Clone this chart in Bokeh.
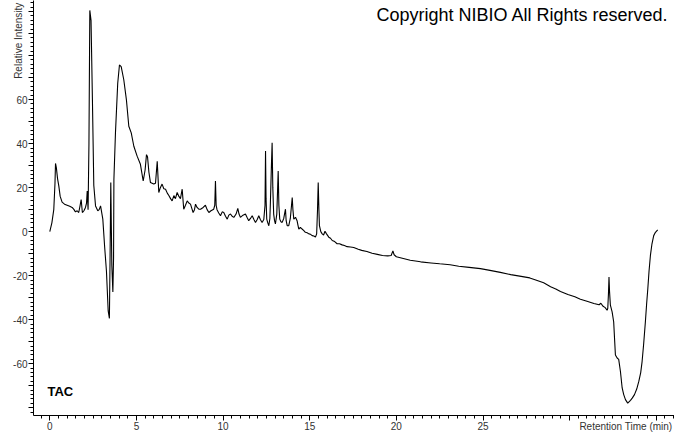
import math
from bokeh.plotting import figure
from bokeh.models import Range1d, FixedTicker, Label, ColumnDataSource
from bokeh.embed import file_html
from bokeh.resources import INLINE

# Retention time (min)
rt = [0, 0.12, 0.23, 0.3, 0.33, 0.38, 0.45, 0.52, 0.6, 0.71, 0.85, 1.0, 1.15, 1.29, 1.4, 1.48,
      1.58, 1.67, 1.74, 1.81, 1.88, 1.97, 2.06, 2.12, 2.16, 2.21, 2.26, 2.31, 2.38, 2.46, 2.54,
      2.64, 2.77, 2.85, 2.93, 3.06, 3.16, 3.27, 3.37, 3.44, 3.48, 3.52, 3.58, 3.64, 3.68, 3.7,
      3.79, 3.92, 4.02, 4.12, 4.27, 4.42, 4.56, 4.7, 4.85, 5.04, 5.23, 5.39, 5.5, 5.58, 5.64,
      5.72, 5.81, 6.0, 6.1, 6.2, 6.25, 6.29, 6.38, 6.48, 6.58, 6.68, 6.78, 6.87, 6.97, 7.06,
      7.16, 7.25, 7.35, 7.45, 7.54, 7.64, 7.73, 7.83, 7.93, 8.02, 8.12, 8.2, 8.27, 8.35, 8.41,
      8.5, 8.6, 8.7, 8.85, 8.98, 9.08, 9.18, 9.3, 9.46, 9.52, 9.56, 9.6, 9.65, 9.75, 9.85, 9.95,
      10.04, 10.14, 10.24, 10.33, 10.43, 10.52, 10.62, 10.75, 10.85, 10.92, 11.0, 11.15, 11.29,
      11.38, 11.48, 11.58, 11.68, 11.78, 11.87, 11.97, 12.06, 12.15, 12.25, 12.35, 12.42, 12.45,
      12.48, 12.52, 12.58, 12.64, 12.7, 12.73, 12.79, 12.83, 12.87, 12.92, 12.97, 13.02, 13.1,
      13.15, 13.18, 13.22, 13.27, 13.34, 13.41, 13.5, 13.57, 13.6, 13.64, 13.7, 13.79, 13.88,
      13.95, 13.99, 14.03, 14.08, 14.18, 14.27, 14.32, 14.37, 14.46, 14.56, 14.66, 14.75, 14.85,
      14.95, 15.05, 15.14, 15.24, 15.33, 15.4, 15.45, 15.49, 15.53, 15.56, 15.64, 15.72, 15.8,
      15.88, 15.97, 16.1, 16.2, 16.3, 16.44, 16.58, 16.72, 16.87, 17.0, 17.16, 17.35, 17.54,
      17.8, 18.0, 18.3, 18.6, 18.9, 19.2, 19.5, 19.7, 19.8, 19.87, 20.0, 20.4, 20.8, 21.4, 22.0,
      22.5, 23.1, 23.6, 24.2, 24.85, 25.4, 26.0, 26.6, 27.2, 27.7, 28.0, 28.5, 28.9, 29.2, 29.47,
      29.9, 30.3, 30.62, 31.0, 31.4, 31.7, 31.8, 31.93, 32.05, 32.16, 32.2, 32.24, 32.27, 32.3,
      32.35, 32.45, 32.54, 32.6, 32.64, 32.74, 32.83, 32.93, 33.03, 33.12, 33.22, 33.35, 33.51,
      33.62, 33.74, 33.87, 33.99, 34.1, 34.18, 34.27, 34.37, 34.44, 34.51, 34.58, 34.66, 34.75,
      34.85, 34.95, 35.08]

# Relative intensity
intensity = [0, 4, 10, 22, 31, 29, 24, 20.8, 16, 13.4, 12.5, 12, 11.5, 11, 10, 9,
             9.5, 8.7, 11.5, 14.6, 8.7, 9.5, 11, 13, 18.5, 10, 40, 100.5, 96, 60, 21,
             11.7, 9.5, 10, 11.7, 5.7, -6.3, -18, -36, -39.4, -10.8, 22.3, -15.3, -27.4, -12, 23.8,
             44.9, 67.4, 75.7, 75, 69, 60, 47.9, 44.9, 38.8, 34.3, 30.6, 23, 28, 35, 34,
             27, 22.3, 21.6, 22, 32, 24, 17.8, 20, 21.6, 19.5, 19.3, 17.5, 16.4, 15, 14,
             16.4, 15, 17.8, 16, 15, 19.3, 10.2, 12, 14, 13, 12.5, 10.5, 8.7, 10, 12.5,
             11, 10.2, 10.2, 11, 12, 10, 8.7, 9.5, 10.2, 12, 23, 12, 10, 8.5, 7.2, 9,
             8.7, 7, 5.7, 7.5, 8, 7, 6.5, 8, 10.6, 8, 6.5, 7.5, 8,
             6.5, 5, 6, 7.2, 5.5, 4.2, 5.5, 7.2, 5.5, 4.2, 5.5, 12, 36.6,
             15, 5.7, 4, 2.7, 6, 13, 30, 40.4, 20, 8, 5, 3.5, 8,
             20, 27.5, 12, 5.7, 4.5, 4.2, 6, 9, 10.2, 5, 2.7, 2.7, 6,
             12, 15.5, 10, 5.7, 6.5, 5, 3, 1.2, 2, 1.2, 0.5, -0.3, -0.5,
             -1, -1.2, -1.8, -2, -2.5, -1, 10, 22.3, 10, 2.7, 0, -1, -1.5,
             0.2, -1, -2.5, -3, -4, -4.5, -5.5, -5.5, -6, -6.3, -6.8, -7, -7.2,
             -8, -8.5, -9, -9.8, -10.3, -10.8, -11, -10.8, -8.7, -10.5, -11.4, -12.2, -13, -13.7, -14.2,
             -14.6, -15, -15.7, -16.2, -16.8, -17.6, -18.5, -19.5, -20.3, -21, -21.8, -23.2, -25, -26, -27.2,
             -28.5, -29.6, -30.7, -31.6, -32.6, -33.2, -32.5, -33.9, -34.5, -35.7, -34.8, -28, -20.6, -27,
             -33.4, -36.4, -40.9, -50, -56, -57.4, -58, -63.5, -71, -74, -76.3, -77.9, -76.6,
             -75.5, -74, -71.5, -68, -64, -59, -51, -40.9, -33, -25.9, -18, -10.8, -5.5,
             -1.8, -0.3, 0.8]

x_major = [0, 5, 10, 15, 20, 25, 30, 35]
x_labels = {0: "0", 5: "5", 10: "10", 15: "15", 20: "20", 25: "25", 30: "", 35: ""}
y_major = [-80, -70, -60, -50, -40, -30, -20, -10, 0, 10, 20, 30, 40, 50, 60, 70, 80, 90, 100]
y_labels = {-60: "-60", -40: "-40", -20: "-20", 0: "0", 20: "20", 40: "40", 60: "60"}
x_title = "Retention Time (min)"
y_title = "Relative Intensity"

src = ColumnDataSource(data=dict(t=rt, v=intensity))

XMIN, XMAX = -0.94, 36.05
YMIN, YMAX = -83.5, 105
NBSP = "\u00a0"

p = figure(width=674, height=434, output_backend="svg", toolbar_location=None,
           x_range=Range1d(XMIN, XMAX), y_range=Range1d(YMIN, YMAX),
           min_border_left=33, min_border_right=0, min_border_top=0, min_border_bottom=0)
p.outline_line_color = None
p.xgrid.visible = False
p.ygrid.visible = False
p.background_fill_color = "white"
p.border_fill_color = "white"

p.line("t", "v", source=src, line_color="black", line_width=1.1)

xminor = [i * 0.5 for i in range(-1, 73)]
yminor = list(range(-82, 106, 2))
p.xaxis.ticker = FixedTicker(ticks=x_major, minor_ticks=xminor)
p.yaxis.ticker = FixedTicker(ticks=y_major, minor_ticks=yminor)
p.xaxis.major_label_overrides = x_labels
p.yaxis.major_label_overrides = {k: y_labels.get(k, "") for k in y_major}

for ax in (p.xaxis[0], p.yaxis[0]):
    ax.axis_line_color = "black"
    ax.axis_line_width = 1
    ax.major_tick_line_color = "black"
    ax.minor_tick_line_color = "black"
    ax.major_tick_out = 5
    ax.major_tick_in = 0
    ax.minor_tick_out = 3
    ax.minor_tick_in = 0
    ax.major_label_text_font = "Liberation Sans"
    ax.major_label_text_font_size = "10px"
    ax.major_label_text_color = "#333333"
    ax.major_label_standoff = 1
    ax.axis_label_text_font = "Liberation Sans"
    ax.axis_label_text_font_size = "10px"
    ax.axis_label_text_font_style = "normal"
    ax.axis_label_text_color = "#333333"

# axis titles sit at the far end of each axis (label is centred on the axis end,
# so trailing non-breaking spaces shift the visible words back inside the canvas)
xa = p.xaxis[0]
xa.axis_label = x_title + NBSP * 35
xa.axis_label_align = "end"
xa.axis_label_standoff = -12

ya = p.yaxis[0]
ya.axis_label = y_title + NBSP * 29
ya.axis_label_align = "end"
ya.axis_label_standoff = -14

p.add_layout(Label(x=XMAX, y=YMAX, x_offset=-6, y_offset=-14, text="Copyright NIBIO All Rights reserved.",
                   text_align="right", text_baseline="middle",
                   text_font="Liberation Sans", text_font_size="18px", text_color="black"))
p.add_layout(Label(x=XMIN, y=YMIN, x_offset=14, y_offset=24, text="TAC",
                   text_align="left", text_baseline="middle", text_font_style="bold",
                   text_font="Liberation Sans", text_font_size="13px", text_color="black"))

open("out.html", "w").write(file_html(p, INLINE))
